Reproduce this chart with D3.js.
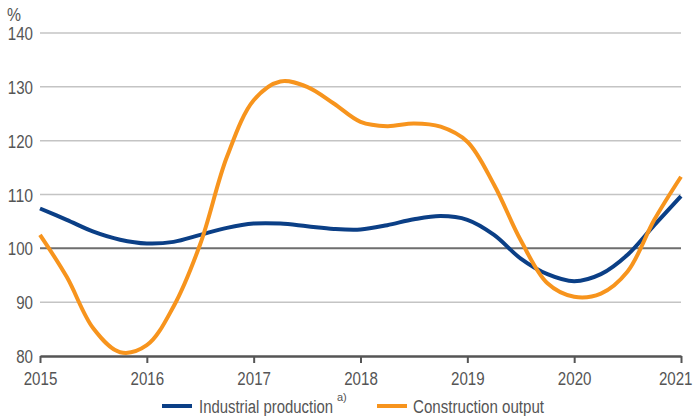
<!DOCTYPE html>
<html><head><meta charset="utf-8">
<script src="https://cdn.jsdelivr.net/npm/d3@7"></script>
<style>
body{margin:0;background:#fff;}
svg text{font-family:"Liberation Sans",Arial,sans-serif;fill:#555;}
</style></head>
<body><svg id="c" width="699" height="416"></svg>
<script>
const periods = [2015,2015.25,2015.5,2015.75,2016,2016.25,2016.5,2016.75,2017,2017.25,2017.5,2017.75,2018,2018.25,2018.5,2018.75,2019,2019.25,2019.5,2019.75,2020,2020.25,2020.5,2020.75,2021];
const industrial = [107.4,105.3,103.1,101.6,100.9,101.2,102.5,103.8,104.6,104.6,104.1,103.6,103.5,104.3,105.4,106.0,105.3,102.5,98.1,95.2,93.9,95.2,98.8,104.3,109.7];
const construction = [102.5,94.7,85.1,80.7,82.0,89.2,100.8,117.0,127.5,131.0,130.0,126.9,123.5,122.7,123.2,122.6,119.8,111.8,101.5,93.5,91.0,91.6,95.7,105.3,113.3];
const yTicks = [80,90,100,110,120,130,140];
const xTicks = [2015,2016,2017,2018,2019,2020,2021];
const seriesNames = ["Industrial production","Construction output"];
const footnote = "a)";
const colors = ["#0b3f86","#f7941d"];

const svg = d3.select("#c");
const x = d3.scaleLinear().domain([2015,2021]).range([40,681]);
const y = d3.scaleLinear().domain([80,140]).range([356,33]);
const digitW = 8.4;

// grid
svg.append("g").selectAll("line").data(yTicks.filter(d=>d!==80)).join("line")
  .attr("x1",40).attr("x2",681).attr("y1",d=>y(d)).attr("y2",d=>y(d))
  .attr("stroke",d=>d===100?"#6e6e6e":"#c4c4c4").attr("stroke-width",d=>d===100?2:1.5);

// y labels
svg.append("g").selectAll("text").data(yTicks).join("text")
  .attr("x",33).attr("y",d=>y(d)+7).attr("text-anchor","end").attr("font-size",18)
  .attr("textLength",d=>String(d).length*digitW).attr("lengthAdjust","spacingAndGlyphs").text(d=>d);
svg.append("text").attr("x",7).attr("y",21).attr("font-size",18).attr("textLength",14).attr("lengthAdjust","spacingAndGlyphs").text("%");

// x axis
const xa = svg.append("g").attr("transform","translate(0,356)")
  .call(d3.axisBottom(x).tickValues(xTicks).tickFormat(d3.format("d")).tickSize(7).tickSizeOuter(0));
xa.select(".domain").attr("stroke","#555").attr("stroke-width",2.5);
xa.selectAll(".tick line").attr("stroke","#555").attr("stroke-width",2);
xa.selectAll(".tick text").attr("font-size",18).attr("fill","#555").attr("dy",null).attr("y",29)
  .attr("font-family",'"Liberation Sans",Arial,sans-serif')
  .attr("textLength",4*digitW).attr("lengthAdjust","spacingAndGlyphs")
  .attr("text-anchor",d=>d===2021?"end":"middle").attr("x",d=>d===2021?11:0);
xa.attr("font-size",null);

// lines
const line = d3.line().x((d,i)=>x(periods[i])).y(d=>y(d)).curve(d3.curveCatmullRom.alpha(0.5));
[industrial,construction].forEach((s,k)=>{
  svg.append("path").attr("d",line(s)).attr("fill","none").attr("stroke",colors[k]).attr("stroke-width",4).attr("stroke-linecap","butt");
});

// legend
const lg = svg.append("g");
lg.append("line").attr("x1",162).attr("x2",192).attr("y1",406).attr("y2",406).attr("stroke",colors[0]).attr("stroke-width",4);
const t1 = lg.append("text").attr("x",199).attr("y",413).attr("font-size",18);
t1.append("tspan").attr("textLength",134).attr("lengthAdjust","spacingAndGlyphs").text(seriesNames[0]);
t1.append("tspan").attr("x",337).attr("dy",-12).attr("font-size",11).text(footnote);
lg.append("line").attr("x1",377).attr("x2",407).attr("y1",406).attr("y2",406).attr("stroke",colors[1]).attr("stroke-width",4);
lg.append("text").attr("x",413).attr("y",413).attr("font-size",18).attr("textLength",131).attr("lengthAdjust","spacingAndGlyphs").text(seriesNames[1]);
</script></body></html>
